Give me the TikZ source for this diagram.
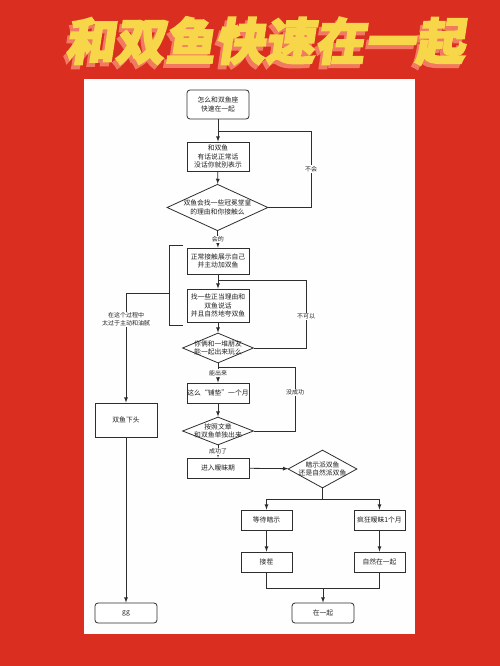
\documentclass[tikz,border=0pt]{standalone}
\usepackage{fontspec}
\setmainfont{Noto Sans CJK SC}
\newfontfamily\titlefont[FakeSlant=0.15,FakeBold=3]{Noto Sans CJK SC}
\usepackage{tikz}
\usetikzlibrary{shapes.geometric}
\usetikzlibrary{positioning}
\usetikzlibrary{arrows}
\definecolor{bgred}{HTML}{DA2F20}
\definecolor{titleyellow}{HTML}{F8D64A}
\definecolor{titleshadow}{HTML}{F27A62}
\definecolor{linegray}{HTML}{2E2E2E}
\definecolor{textgray}{HTML}{222222}
\definecolor{paper}{HTML}{FEFEFE}
\newcommand{\flowfont}{\fontsize{6.8}{8.2}\selectfont}
\newcommand{\titleword}{和双鱼快速在一起}
\tikzset{
flow_box/.style={rectangle, draw=linegray, line width=0.8pt, fill=white, text=textgray, align=center, inner sep=0pt, font=\flowfont, minimum width=62pt},
end_box/.style={flow_box, rounded corners=3pt},
side_box/.style={flow_box, minimum width=51pt, minimum height=20pt},
decision/.style={diamond, draw=linegray, line width=0.8pt, fill=white, text=textgray, align=center, inner sep=-9pt, font=\flowfont},
edge_label/.style={fill=white, text=textgray, font=\fontsize{6}{7.4}\selectfont, inner sep=1pt, align=center},
link/.style={draw=linegray, line width=0.8pt},
title_text/.style={font=\titlefont\bfseries\fontsize{50}{50}\selectfont, text=titleyellow, inner sep=0pt}
}

\begin{document}
\begin{tikzpicture}[x=1pt, y=-1pt, >=latex]
    \fill[bgred] (0,0) rectangle (500,666);
    \useasboundingbox (0,0) rectangle (500,666);
    \fill[paper] (84,79) rectangle (415,634);
    % title with its shadow
    \node[title_text] (title) at (265,43) {\rlap{\kern-3pt\raisebox{-4pt}{\color{titleshadow}\titleword}}\titleword};

    % main column
    \node[end_box, minimum height=29pt] (start) at (218,104.5) {怎么和双鱼座\\快速在一起};
    \node[flow_box, minimum height=29pt] (talk) at (218,156.5) {和双鱼\\有话说正常话\\没话你就别表示};
    \node[decision, minimum width=101pt, minimum height=41pt] (dec_contact) at (217.5,207.5) {双鱼会找一些冠冕堂皇\\的理由和你接触么};
    \node[flow_box, minimum height=26pt] (show) at (218,261) {正常接触展示自己\\并主动加双鱼};
    \node[flow_box, minimum height=33pt] (reason) at (218,305.5) {找一些正当理由和\\双鱼说话\\并且自然地夸双鱼};
    \node[decision, minimum width=71pt, minimum height=30pt] (dec_friends) at (218,348) {你俩和一堆朋友\\能一起出来玩么};
    \node[flow_box, minimum height=20pt] (pave) at (218,393) {这么“铺垫”一个月};
    \node[decision, minimum width=71pt, minimum height=28pt] (dec_alone) at (218,431) {按照文章\\和双鱼单独出来};
    \node[flow_box, minimum height=20pt] (ambig) at (218,468) {进入暧昧期};

    % left branch
    \node[flow_box, minimum height=34pt] (turnoff) at (126,420) {双鱼下头};
    \node[end_box, minimum height=20pt] (gg) at (126,613) {gg};

    % right branch
    \node[decision, minimum width=69pt, minimum height=38pt] (dec_type) at (322.5,469) {暗示派双鱼\\还是自然派双鱼};
    \node[side_box] (wait) at (266.5,520) {等待暗示};
    \node[side_box] (crazy) at (379.5,520) {疯狂暧昧1个月};
    \node[side_box] (reply) at (266.5,562) {接茬};
    \node[side_box] (natural) at (379.5,562) {自然在一起};
    \node[end_box, minimum height=20pt] (together) at (323,613) {在一起};

    % joints
    \coordinate (merge_1) at (218,131);
    \coordinate (loop_1) at (311,131);
    \coordinate (merge_2) at (218,280);
    \coordinate (loop_2) at (306,280);
    \coordinate (merge_3) at (218,367);
    \coordinate (loop_3) at (295,367);
    \coordinate (split_top) at (322.5,499);
    \coordinate (join_bottom) at (323,588);
    \coordinate (bracket_top) at (183,245);
    \coordinate (bracket_bottom) at (183,325);
    \coordinate (bracket_mid) at (169,293);

    \draw[link, ->] (start) -- (talk);
    \draw[link, ->] (talk) -- (dec_contact);
    \draw[link] (dec_contact.east) -| (loop_1) node[pos=0.75, edge_label] {不会} -- (merge_1);
    \draw[link, ->] (dec_contact.south) -- (show.north) node[midway, edge_label] {会的};
    \draw[link, ->] (show) -- (reason);
    \draw[link] (dec_friends.east) -| (loop_2) node[pos=0.73, edge_label] {不可以} -- (merge_2);
    \draw[link, ->] (reason) -- (dec_friends);
    \draw[link, ->] (dec_friends.south) -- (pave.north) node[midway, edge_label] {能出来};
    \draw[link] (dec_alone.east) -| (loop_3) node[pos=0.8, edge_label] {没成功} -- (merge_3);
    \draw[link, ->] (pave) -- (dec_alone);
    \draw[link, ->] (dec_alone.south) -- (ambig.north) node[midway, edge_label] {成功了};
    \draw[link, ->] (ambig) -- (dec_type);
    \draw[link] (dec_type.south) -- (split_top);
    \draw[link, ->] (split_top) -| (wait.north);
    \draw[link, ->] (split_top) -| (crazy.north);
    \draw[link, ->] (wait) -- (reply);
    \draw[link, ->] (crazy) -- (natural);
    \draw[link] (reply.south) |- (join_bottom);
    \draw[link] (natural.south) |- (join_bottom);
    \draw[link, ->] (join_bottom) -- (together.north);

    % bracket round the two steps
    \draw[link] (bracket_top) -- ++(-14,0) |- (bracket_bottom);
    \draw[link, ->] (bracket_mid) -| (turnoff.north) node[pos=0.62, edge_label] {在这个过程中\\太过于主动和油腻};
    \draw[link, ->] (turnoff) -- (gg);
\end{tikzpicture}
\end{document}
